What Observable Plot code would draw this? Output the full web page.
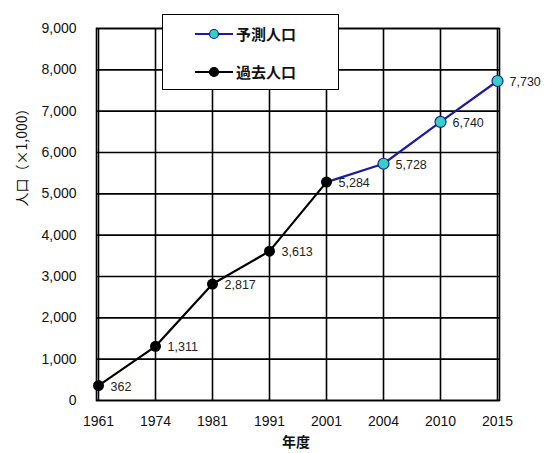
<!DOCTYPE html>
<html>
<head>
<meta charset="utf-8">
<script src="https://cdn.jsdelivr.net/npm/d3@7"></script>
<script src="https://cdn.jsdelivr.net/npm/@observablehq/plot@0.6"></script>
<style>
  body { margin: 0; background: #fff; }
  #wrap { position: relative; width: 548px; height: 453px; font-family: "Liberation Sans", Arial, sans-serif; }
  #legend { position: absolute; left: 162px; top: 14px; width: 175px; height: 74px; border: 1.5px solid #000; background: #fff; }
  .row { position: absolute; left: 32px; display: flex; align-items: center; font-family: "Noto Sans CJK JP", sans-serif; font-weight: bold; font-size: 15px; color: #111; }
  .row svg { margin-right: 3px; }
</style>
</head>
<body>
<div id="wrap"></div>
<script>
const years = ["1961", "1974", "1981", "1991", "2001", "2004", "2010", "2015"];
const pastYears = ["1961", "1974", "1981", "1991", "2001"];
const pastValues = [362, 1311, 2817, 3613, 5284];
const forecastYears = ["2001", "2004", "2010", "2015"];
const forecastValues = [5284, 5728, 6740, 7730];
const yTicks = [0, 1000, 2000, 3000, 4000, 5000, 6000, 7000, 8000, 9000];
const seriesNames = ["予測人口", "過去人口"];
const xTitle = "年度";
const yTitle = "人口（×1,000）";

const past = pastYears.map((y, i) => ({year: y, value: pastValues[i]}));
const forecast = forecastYears.map((y, i) => ({year: y, value: forecastValues[i]}));
const fmt = d3.format(",");

const navy = "#1c1c9c";
const cyan = "#36cfc4";

const chart = Plot.plot({
  width: 548,
  height: 453,
  marginLeft: 96,
  marginRight: 49,
  marginTop: 28,
  marginBottom: 53,
  style: {fontFamily: "'Liberation Sans', Arial, sans-serif", fontSize: "14px", color: "#111", background: "#fff"},
  x: {type: "point", domain: years, padding: 0},
  y: {domain: [0, 9000]},
  marks: [
    Plot.gridX(years, {stroke: "#000", strokeOpacity: 1, strokeWidth: 1.6}),
    Plot.gridY(yTicks, {stroke: "#000", strokeOpacity: 1, strokeWidth: 1.6}),
    Plot.frame({stroke: "#000", strokeWidth: 1.6}),
    Plot.axisY(yTicks, {tickSize: 0, tickPadding: 20, tickFormat: fmt, fontSize: 14, label: null}),
    Plot.axisX(years, {tickSize: 0, tickPadding: 16, fontSize: 14, label: null}),
    Plot.line(forecast, {x: "year", y: "value", stroke: navy, strokeWidth: 2.2}),
    Plot.line(past, {x: "year", y: "value", stroke: "#000", strokeWidth: 2.2}),
    Plot.dot(forecast.slice(1), {x: "year", y: "value", r: 5.5, fill: cyan, stroke: navy, strokeWidth: 1.2}),
    Plot.dot(past, {x: "year", y: "value", r: 5.5, fill: "#000"}),
    Plot.text(past, {x: "year", y: "value", text: d => fmt(d.value), textAnchor: "start", dx: 12, dy: 1, fontSize: 12.5, fill: "#222"}),
    Plot.text(forecast.slice(1), {x: "year", y: "value", text: d => fmt(d.value), textAnchor: "start", dx: 12, dy: 1, fontSize: 12.5, fill: "#222"}),
    Plot.text([xTitle], {frameAnchor: "bottom", dx: -2, dy: 46, fontSize: 14, fontWeight: "bold", fontFamily: "'Noto Sans CJK JP', sans-serif"}),
    Plot.text([yTitle], {frameAnchor: "left", dx: -74, dy: -8, rotate: -90, fontSize: 14, fontFamily: "'Noto Sans CJK JP', sans-serif"})
  ]
});

const wrap = document.getElementById("wrap");
wrap.appendChild(chart);

const legend = document.createElement("div");
legend.id = "legend";
const sym = (lineColor, fill, stroke) =>
  `<svg width="38" height="14"><line x1="0" y1="7" x2="38" y2="7" stroke="${lineColor}" stroke-width="2.2"/><circle cx="19" cy="7" r="4.5" fill="${fill}" stroke="${stroke}" stroke-width="1.2"/></svg>`;
legend.innerHTML =
  `<div class="row" style="top:8px">${sym(navy, cyan, navy)}<span>${seriesNames[0]}</span></div>` +
  `<div class="row" style="top:46px">${sym("#000", "#000", "#000")}<span>${seriesNames[1]}</span></div>`;
wrap.appendChild(legend);
</script>
</body>
</html>
